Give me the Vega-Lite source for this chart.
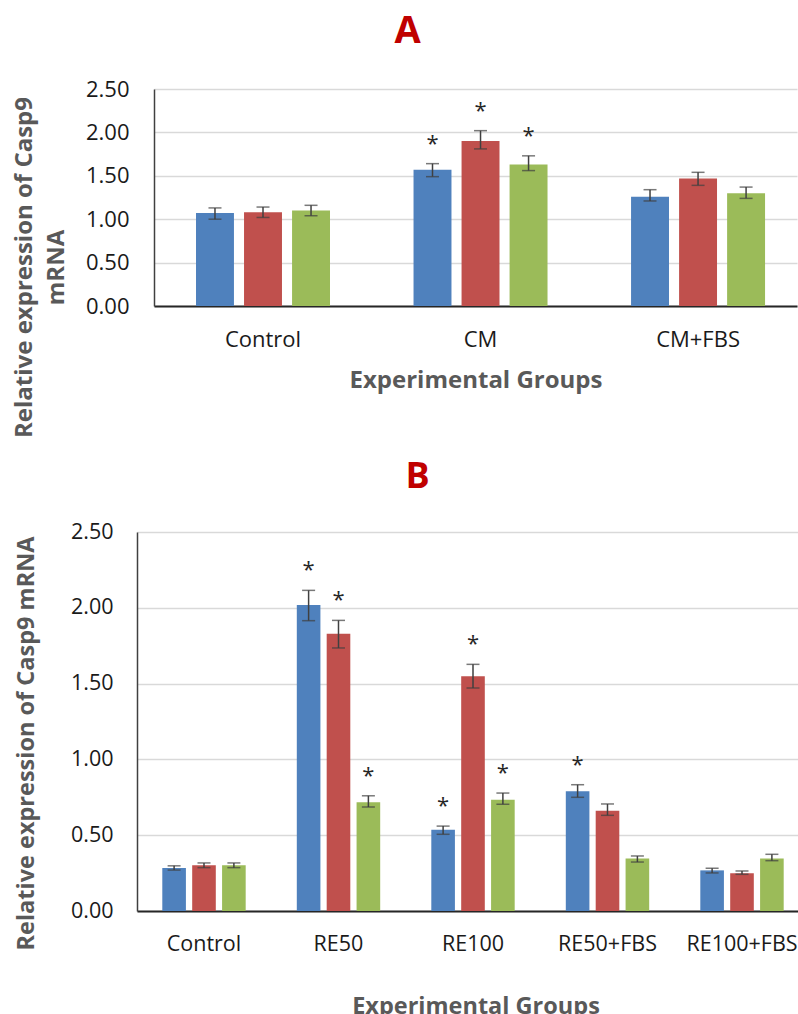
{
  "$schema": "https://vega.github.io/schema/vega-lite/v6.json",
  "background": "white",
  "padding": {"left": 12, "top": 13, "right": 0, "bottom": 0},
  "config": {
    "font": "Open Sans",
    "view": {"stroke": null},
    "axis": {"labelColor": "#1a1a1a", "titleColor": "#595959", "titleFontWeight": "bold", "ticks": false, "labelFontWeight": "normal"}
  },
  "datasets": {
    "a": [
      {"group": "Control", "series": "S1", "mean": 1.07, "lo": 1.00, "hi": 1.13, "sig": ""},
      {"group": "Control", "series": "S2", "mean": 1.08, "lo": 1.02, "hi": 1.14, "sig": ""},
      {"group": "Control", "series": "S3", "mean": 1.10, "lo": 1.04, "hi": 1.16, "sig": ""},
      {"group": "CM", "series": "S1", "mean": 1.57, "lo": 1.49, "hi": 1.64, "sig": "*"},
      {"group": "CM", "series": "S2", "mean": 1.90, "lo": 1.81, "hi": 2.02, "sig": "*"},
      {"group": "CM", "series": "S3", "mean": 1.63, "lo": 1.56, "hi": 1.73, "sig": "*"},
      {"group": "CM+FBS", "series": "S1", "mean": 1.26, "lo": 1.21, "hi": 1.34, "sig": ""},
      {"group": "CM+FBS", "series": "S2", "mean": 1.47, "lo": 1.39, "hi": 1.54, "sig": ""},
      {"group": "CM+FBS", "series": "S3", "mean": 1.30, "lo": 1.24, "hi": 1.37, "sig": ""}
    ],
    "b": [
      {"group": "Control", "series": "S1", "mean": 0.284, "lo": 0.270, "hi": 0.298, "sig": ""},
      {"group": "Control", "series": "S2", "mean": 0.301, "lo": 0.286, "hi": 0.317, "sig": ""},
      {"group": "Control", "series": "S3", "mean": 0.301, "lo": 0.286, "hi": 0.317, "sig": ""},
      {"group": "RE50", "series": "S1", "mean": 2.018, "lo": 1.915, "hi": 2.115, "sig": "*"},
      {"group": "RE50", "series": "S2", "mean": 1.829, "lo": 1.735, "hi": 1.917, "sig": "*"},
      {"group": "RE50", "series": "S3", "mean": 0.717, "lo": 0.686, "hi": 0.760, "sig": "*"},
      {"group": "RE100", "series": "S1", "mean": 0.536, "lo": 0.506, "hi": 0.560, "sig": "*"},
      {"group": "RE100", "series": "S2", "mean": 1.548, "lo": 1.471, "hi": 1.627, "sig": "*"},
      {"group": "RE100", "series": "S3", "mean": 0.734, "lo": 0.704, "hi": 0.778, "sig": "*"},
      {"group": "RE50+FBS", "series": "S1", "mean": 0.790, "lo": 0.750, "hi": 0.833, "sig": "*"},
      {"group": "RE50+FBS", "series": "S2", "mean": 0.662, "lo": 0.631, "hi": 0.706, "sig": ""},
      {"group": "RE50+FBS", "series": "S3", "mean": 0.347, "lo": 0.323, "hi": 0.363, "sig": ""},
      {"group": "RE100+FBS", "series": "S1", "mean": 0.268, "lo": 0.251, "hi": 0.282, "sig": ""},
      {"group": "RE100+FBS", "series": "S2", "mean": 0.249, "lo": 0.242, "hi": 0.264, "sig": ""},
      {"group": "RE100+FBS", "series": "S3", "mean": 0.347, "lo": 0.332, "hi": 0.374, "sig": ""}
    ]
  },
  "concat": [
    {
      "width": 643,
      "height": 217,
      "title": {"text": "A", "color": "#C00000", "fontSize": 38, "fontWeight": "bold", "offset": 27, "dx": -68, "font": "Open Sans"},
      "data": {"name": "a"},
      "encoding": {
        "x": {"field": "group", "type": "nominal", "sort": ["Control", "CM", "CM+FBS"],
              "scale": {"paddingInner": 0.384, "paddingOuter": 0.17, "align": 0.568},
              "axis": {"title": "Experimental Groups", "labelAngle": 0, "labelFontSize": 22, "labelPadding": 23, "titleFontSize": 24, "titlePadding": 18, "domainColor": "#262626", "domainWidth": 2}},
        "xOffset": {"field": "series", "type": "nominal", "sort": ["S1", "S2", "S3"], "scale": {"paddingInner": 0.21}}
      },
      "layer": [
        {
          "mark": {"type": "bar"},
          "encoding": {
            "y": {"field": "mean", "type": "quantitative",
                  "scale": {"domain": [0, 2.5], "nice": false},
                  "axis": {"title": ["Relative expression of Casp9", "mRNA"], "values": [0, 0.5, 1, 1.5, 2, 2.5], "format": ".2f", "labelFontSize": 22, "labelPadding": 25, "titleFontSize": 24, "titlePadding": 17, "titleLineHeight": 32, "titleY": 178, "gridColor": "#D9D9D9", "gridWidth": 1.5, "domainColor": "#404040", "domainWidth": 1.5}},
            "color": {"field": "series", "type": "nominal", "scale": {"domain": ["S1", "S2", "S3"], "range": ["#4F81BD", "#C0504D", "#9BBB59"]}, "legend": null}
          }
        },
        {
          "mark": {"type": "rule", "color": "#404040", "strokeWidth": 1.5},
          "encoding": {"y": {"field": "lo", "type": "quantitative"}, "y2": {"field": "hi"}}
        },
        {
          "mark": {"type": "tick", "color": "#404040", "thickness": 1.5, "size": 13},
          "encoding": {"y": {"field": "lo", "type": "quantitative"}}
        },
        {
          "mark": {"type": "tick", "color": "#404040", "thickness": 1.5, "size": 13},
          "encoding": {"y": {"field": "hi", "type": "quantitative"}}
        },
        {
          "mark": {"type": "text", "fontSize": 22, "color": "#262626", "baseline": "alphabetic", "dy": -13},
          "encoding": {"y": {"field": "hi", "type": "quantitative"}, "text": {"field": "sig"}}
        }
      ]
    },
    {
      "width": 677,
      "height": 379,
      "title": {"text": "B", "color": "#C00000", "fontSize": 36, "fontWeight": "bold", "offset": 25, "dx": -58, "font": "Open Sans"},
      "data": {"name": "b"},
      "encoding": {
        "x": {"field": "group", "type": "nominal", "sort": ["Control", "RE50", "RE100", "RE50+FBS", "RE100+FBS"],
              "scale": {"paddingInner": 0.38, "paddingOuter": 0.2067, "align": 0.455},
              "axis": {"title": "Experimental Groups", "labelAngle": 0, "labelFontSize": 21.5, "labelPadding": 22, "titleFontSize": 23.5, "titlePadding": 40, "domainColor": "#262626", "domainWidth": 2}},
        "xOffset": {"field": "series", "type": "nominal", "sort": ["S1", "S2", "S3"], "scale": {"paddingInner": 0.21}}
      },
      "layer": [
        {
          "mark": {"type": "bar"},
          "encoding": {
            "y": {"field": "mean", "type": "quantitative",
                  "scale": {"domain": [0, 2.5], "nice": false},
                  "axis": {"title": "Relative expression of Casp9 mRNA", "values": [0, 0.5, 1, 1.5, 2, 2.5], "format": ".2f", "labelFontSize": 21.5, "labelPadding": 24, "titleFontSize": 23.5, "titlePadding": 32, "titleY": 211, "gridColor": "#D9D9D9", "gridWidth": 1.5, "domainColor": "#404040", "domainWidth": 1.5}},
            "color": {"field": "series", "type": "nominal", "scale": {"domain": ["S1", "S2", "S3"], "range": ["#4F81BD", "#C0504D", "#9BBB59"]}, "legend": null}
          }
        },
        {
          "mark": {"type": "rule", "color": "#404040", "strokeWidth": 1.5},
          "encoding": {"y": {"field": "lo", "type": "quantitative"}, "y2": {"field": "hi"}}
        },
        {
          "mark": {"type": "tick", "color": "#404040", "thickness": 1.5, "size": 13},
          "encoding": {"y": {"field": "lo", "type": "quantitative"}}
        },
        {
          "mark": {"type": "tick", "color": "#404040", "thickness": 1.5, "size": 13},
          "encoding": {"y": {"field": "hi", "type": "quantitative"}}
        },
        {
          "mark": {"type": "text", "fontSize": 22, "color": "#262626", "baseline": "alphabetic", "dy": -13},
          "encoding": {"y": {"field": "hi", "type": "quantitative"}, "text": {"field": "sig"}}
        }
      ]
    }
  ],
  "columns": 1,
  "center": true,
  "resolve": {"scale": {"xOffset": "independent"}},
  "spacing": 21
}
